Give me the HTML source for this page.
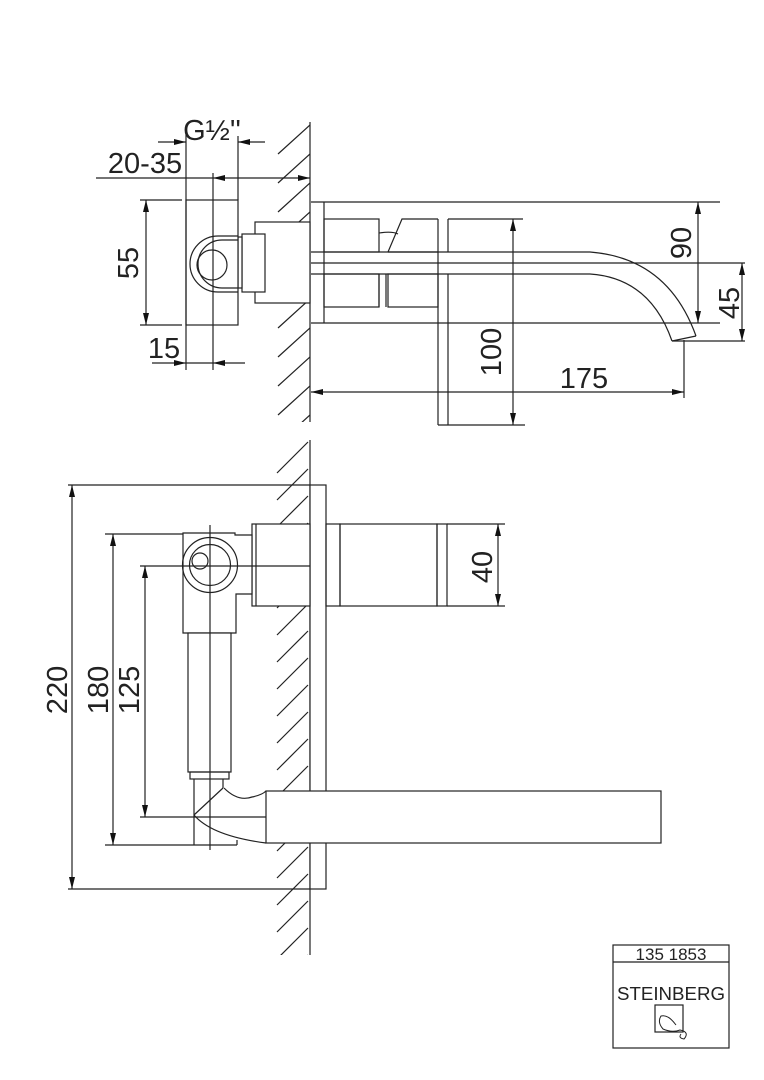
<!DOCTYPE html>
<html><head><meta charset="utf-8"><style>
html,body{margin:0;padding:0;background:#fff;}
svg{display:block;}
text{font-family:"Liberation Sans",sans-serif;fill:#222;}
</style></head><body>
<svg width="764" height="1080" viewBox="0 0 764 1080" xmlns="http://www.w3.org/2000/svg">
<defs>
<marker id="a" viewBox="0 0 12 6" refX="12" refY="3" markerWidth="12" markerHeight="6" markerUnits="userSpaceOnUse" orient="auto-start-reverse"><path d="M0,0 L12,3 L0,6 z" fill="#111"/></marker>
<clipPath id="c1"><rect x="270" y="122" width="40" height="300"/></clipPath>
<clipPath id="c2"><rect x="270" y="440" width="40" height="515"/></clipPath>
</defs>
<g stroke="#222" stroke-width="1.2" fill="none">
<g clip-path="url(#c1)">
<line x1="278" y1="154" x2="310" y2="125"/><line x1="278" y1="183" x2="310" y2="154"/><line x1="278" y1="212" x2="310" y2="183"/><line x1="278" y1="241" x2="310" y2="212"/><line x1="278" y1="270" x2="310" y2="241"/><line x1="278" y1="299" x2="310" y2="270"/><line x1="278" y1="328" x2="310" y2="299"/><line x1="278" y1="357" x2="310" y2="328"/><line x1="278" y1="386" x2="310" y2="357"/><line x1="278" y1="415" x2="310" y2="386"/><line x1="278" y1="444" x2="310" y2="415"/>
</g>
<g clip-path="url(#c2)">
<line x1="277" y1="473" x2="308" y2="442"/><line x1="277" y1="500" x2="308" y2="469"/><line x1="277" y1="527" x2="308" y2="496"/><line x1="277" y1="554" x2="308" y2="523"/><line x1="277" y1="581" x2="308" y2="550"/><line x1="277" y1="608" x2="308" y2="577"/><line x1="277" y1="635" x2="308" y2="604"/><line x1="277" y1="662" x2="308" y2="631"/><line x1="277" y1="689" x2="308" y2="658"/><line x1="277" y1="716" x2="308" y2="685"/><line x1="277" y1="743" x2="308" y2="712"/><line x1="277" y1="770" x2="308" y2="739"/><line x1="277" y1="797" x2="308" y2="766"/><line x1="277" y1="824" x2="308" y2="793"/><line x1="277" y1="851" x2="308" y2="820"/><line x1="277" y1="878" x2="308" y2="847"/><line x1="277" y1="905" x2="308" y2="874"/><line x1="277" y1="932" x2="308" y2="901"/><line x1="277" y1="959" x2="308" y2="928"/><line x1="277" y1="986" x2="308" y2="955"/>
</g>
<line x1="310" y1="122" x2="310" y2="422"/>
<rect x="255" y="222" width="55" height="81" fill="#fff"/>
<rect x="242" y="234" width="23" height="58" fill="#fff"/>
<rect x="238" y="237" width="4" height="51" fill="#fff"/>
<rect x="186" y="200" width="52" height="125" fill="#fff"/>
<path d="M238,236 H218 A28,28 0 0 0 218,292 H238"/>
<path d="M238,240 H222 A24,24 0 0 0 222,288 H238"/>
<circle cx="212" cy="265" r="15"/>
<line x1="213" y1="173" x2="213" y2="370"/>
<line x1="186" y1="133" x2="186" y2="370"/>
<line x1="238" y1="136" x2="238" y2="200"/>
<line x1="158" y1="142" x2="186" y2="142" marker-end="url(#a)"/>
<line x1="265" y1="142" x2="238" y2="142" marker-end="url(#a)"/>
<line x1="96" y1="178" x2="213" y2="178"/>
<line x1="262" y1="178" x2="213" y2="178" marker-end="url(#a)"/>
<line x1="262" y1="178" x2="310" y2="178" marker-end="url(#a)"/>
<line x1="140" y1="200" x2="182" y2="200"/><line x1="140" y1="325" x2="182" y2="325"/>
<line x1="146" y1="262" x2="146" y2="200" marker-end="url(#a)"/>
<line x1="146" y1="262" x2="146" y2="325" marker-end="url(#a)"/>
<line x1="152" y1="363" x2="186" y2="363" marker-end="url(#a)"/>
<line x1="186" y1="363" x2="213" y2="363"/>
<line x1="245" y1="363" x2="213" y2="363" marker-end="url(#a)"/>
<line x1="311" y1="202" x2="720" y2="202"/>
<line x1="311" y1="323" x2="720" y2="323"/>
<line x1="324" y1="202" x2="324" y2="323"/>
<rect x="324" y="219" width="55" height="33"/>
<rect x="324" y="274" width="55" height="33"/>
<path d="M379,233 Q392,231 398,234"/>
<path d="M388,252 L402,219 H438"/>
<path d="M388,252 H438"/>
<rect x="388" y="274" width="50" height="33"/>
<line x1="379" y1="274" x2="379" y2="307"/><line x1="386" y1="274" x2="386" y2="307"/>
<line x1="438" y1="219" x2="438" y2="425"/>
<line x1="448" y1="219" x2="448" y2="252"/><line x1="448" y1="274" x2="448" y2="425"/>
<line x1="448" y1="219" x2="523" y2="219"/>
<line x1="438" y1="425" x2="525" y2="425"/>
<path d="M311,252 H590 Q668,258 696,336"/>
<path d="M311,274 H590 Q650,278 672,341"/>
<line x1="672" y1="341" x2="696" y2="336"/>
<line x1="311" y1="263" x2="745" y2="263"/>
<line x1="672" y1="341" x2="745" y2="341"/>
<line x1="684" y1="340" x2="684" y2="398"/>
<line x1="698" y1="262" x2="698" y2="202" marker-end="url(#a)"/>
<line x1="698" y1="262" x2="698" y2="323" marker-end="url(#a)"/>
<line x1="742" y1="300" x2="742" y2="263" marker-end="url(#a)"/>
<line x1="742" y1="300" x2="742" y2="341" marker-end="url(#a)"/>
<line x1="513" y1="320" x2="513" y2="219" marker-end="url(#a)"/>
<line x1="513" y1="320" x2="513" y2="425" marker-end="url(#a)"/>
<line x1="500" y1="392" x2="311" y2="392" marker-end="url(#a)"/>
<line x1="500" y1="392" x2="684" y2="392" marker-end="url(#a)"/>
<line x1="310" y1="440" x2="310" y2="955"/>
<rect x="310" y="485" width="16" height="404" fill="#fff"/>
<line x1="68" y1="485" x2="310" y2="485"/>
<line x1="68" y1="889" x2="310" y2="889"/>
<line x1="72" y1="688" x2="72" y2="485" marker-end="url(#a)"/>
<line x1="72" y1="688" x2="72" y2="889" marker-end="url(#a)"/>
<rect x="252" y="524" width="58" height="82" fill="#fff"/>
<line x1="256" y1="524" x2="256" y2="606"/>
<rect x="326" y="524" width="14" height="82"/>
<rect x="340" y="524" width="97" height="82"/>
<rect x="437" y="524" width="10" height="82"/>
<line x1="447" y1="524" x2="505" y2="524"/><line x1="447" y1="606" x2="505" y2="606"/>
<line x1="498" y1="565" x2="498" y2="524" marker-end="url(#a)"/>
<line x1="498" y1="565" x2="498" y2="606" marker-end="url(#a)"/>
<path d="M183,533 H235 V535 H252 V594 H236 V633 H183 Z" fill="#fff"/>
<circle cx="210" cy="565" r="27.5"/>
<circle cx="210" cy="565" r="20.5"/>
<circle cx="200" cy="561" r="8"/>
<rect x="188" y="633" width="43" height="139" fill="#fff"/>
<rect x="190" y="772" width="39" height="7"/>
<line x1="105" y1="534" x2="183" y2="534"/>
<line x1="140" y1="566" x2="310" y2="566"/>
<line x1="210" y1="525" x2="210" y2="850"/>
<line x1="113" y1="690" x2="113" y2="534" marker-end="url(#a)"/>
<line x1="113" y1="690" x2="113" y2="845" marker-end="url(#a)"/>
<line x1="145" y1="690" x2="145" y2="566" marker-end="url(#a)"/>
<line x1="145" y1="690" x2="145" y2="817" marker-end="url(#a)"/>
<line x1="105" y1="845" x2="237" y2="845"/>
<line x1="140" y1="817" x2="280" y2="817"/>
<line x1="194" y1="779" x2="194" y2="845"/>
<line x1="223" y1="779" x2="223" y2="788"/>
<line x1="223" y1="788" x2="194" y2="815"/>
<path d="M224,788 Q238,802 252,797 Q262,795 266,791"/>
<path d="M194,815 Q212,836 266,843"/>
<line x1="237" y1="840" x2="237" y2="845"/>
<rect x="266" y="791" width="395" height="52" fill="#fff"/>
<rect x="613" y="945" width="116" height="103"/>
<line x1="613" y1="962" x2="729" y2="962"/>
<rect x="655" y="1005" width="28" height="27"/>
<path d="M676,1025 Q668,1014 661,1016 Q657,1022 663,1029 Q672,1033 680,1030 Q690,1032 684,1039 Q678,1038 681,1034" stroke-width="1"/>
</g>
<g font-size="29">
<text x="212" y="140" text-anchor="middle">G½''</text>
<text x="145" y="173" text-anchor="middle">20-35</text>
<text x="164" y="358" text-anchor="middle">15</text>
<text x="584" y="388" text-anchor="middle">175</text>
<text transform="translate(138,263) rotate(-90)" text-anchor="middle">55</text>
<text transform="translate(691,243) rotate(-90)" text-anchor="middle">90</text>
<text transform="translate(739,303) rotate(-90)" text-anchor="middle">45</text>
<text transform="translate(501,352) rotate(-90)" text-anchor="middle">100</text>
<text transform="translate(67,690) rotate(-90)" text-anchor="middle">220</text>
<text transform="translate(108,690) rotate(-90)" text-anchor="middle">180</text>
<text transform="translate(139,690) rotate(-90)" text-anchor="middle">125</text>
<text transform="translate(492,567) rotate(-90)" text-anchor="middle">40</text>
</g>
<text x="671" y="960" font-size="17" text-anchor="middle">135 1853</text>
<text x="671" y="1000" font-size="18" text-anchor="middle" textLength="108" lengthAdjust="spacingAndGlyphs">STEINBERG</text>
</svg>
</body></html>
